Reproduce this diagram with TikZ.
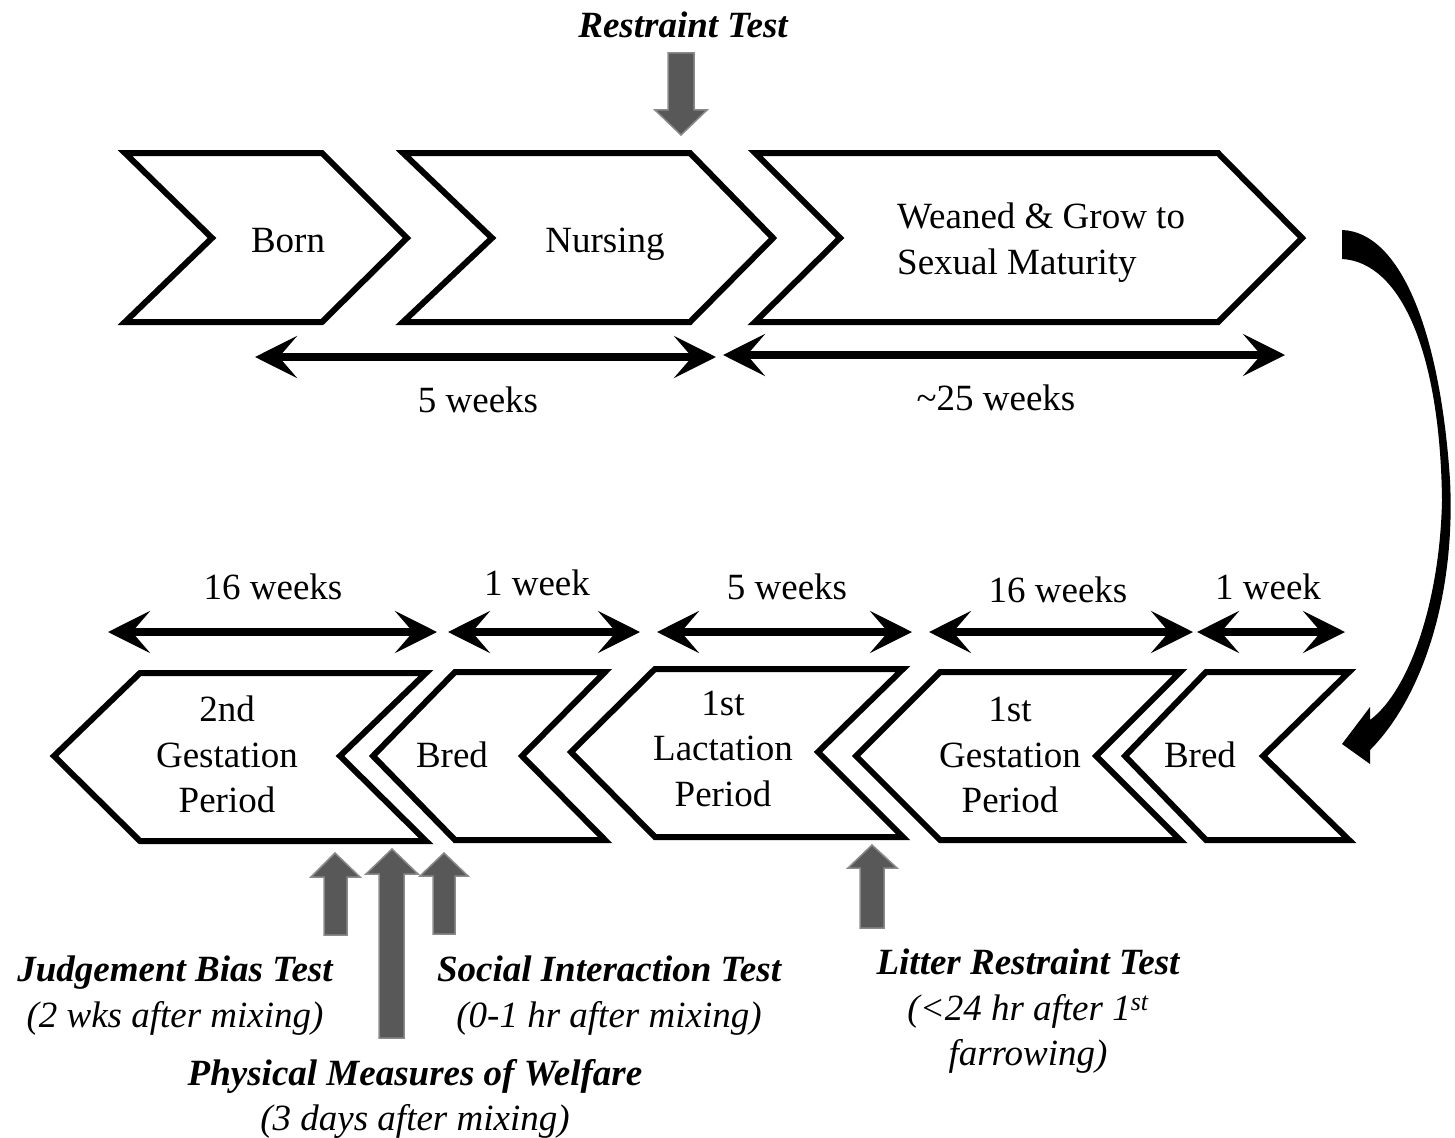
\documentclass[tikz,border=0pt]{standalone}
\usepackage{fontspec}
\setmainfont{Liberation Serif}
\usetikzlibrary{arrows.meta}
\definecolor{agray}{RGB}{88,88,88}
\begin{document}
\begin{tikzpicture}[x=1pt,y=-1pt,
  chev/.style={draw=black,line width=6pt,line join=miter,fill=white},
  lbl/.style={font=\fontsize{37}{46}\selectfont,inner sep=0pt,anchor=base},
  bi/.style={lbl,font=\fontsize{37}{46}\selectfont\bfseries\itshape},
  it/.style={lbl,font=\fontsize{37}{46}\selectfont\itshape},
  dur/.style={line width=8pt,{Stealth[length=42pt,width=42pt,inset=18pt]}-{Stealth[length=42pt,width=42pt,inset=18pt]}},
  garrow/.style={fill=agray,draw=agray!70!white,line width=1.5pt}]
\useasboundingbox (0,0) rectangle (1455,1137);

% ---------- top row chevrons ----------
\draw[chev] (125,153) -- (322,153) -- (407,238) -- (322,322) -- (125,322) -- (212,238) -- cycle;
\draw[chev] (403,153) -- (690,153) -- (773,238) -- (690,322) -- (403,322) -- (492,238) -- cycle;
\draw[chev] (755,153) -- (1218,153) -- (1302,238) -- (1218,322) -- (755,322) -- (840,238) -- cycle;
\node[lbl] (born) at (288,252) {Born};
\node[lbl] (nursing) at (605,252) {Nursing};
\node[lbl,anchor=base west] (weaned1) at (897,228) {Weaned \& Grow to};
\node[lbl,anchor=base west] (weaned2) at (897,274) {Sexual Maturity};

% ---------- top durations ----------
\coordinate (t1l) at (255,357); \coordinate (t1r) at (716,357);
\coordinate (t2l) at (723,355); \coordinate (t2r) at (1285,355);
\draw[dur] (t1l) -- (t1r);
\draw[dur] (t2l) -- (t2r);
\node[lbl] (d5a) at (478,412) {5 weeks};
\node[lbl] (d25) at (996,410) {\textasciitilde25 weeks};

% ---------- restraint test ----------
\node[bi] (restraint) at (683,38) {Restraint Test};
\draw[garrow] (668,53) -- (694,53) -- (694,110) -- (707,110) -- (681,135) -- (655,110) -- (668,110) -- cycle;

% ---------- curved arrow ----------
\fill[black] (1342,230) .. controls (1400,232) and (1440,330) .. (1450,480)
  .. controls (1456,600) and (1420,700) .. (1370,750)
  -- (1370,764) -- (1342,744) -- (1370,707) -- (1370,720)
  .. controls (1410,690) and (1440,600) .. (1442,500)
  .. controls (1440,350) and (1400,262) .. (1342,259) -- cycle;

% ---------- bottom durations ----------
\coordinate (b1l) at (108,632); \coordinate (b1r) at (437,632);
\coordinate (b2l) at (448,632); \coordinate (b2r) at (640,632);
\coordinate (b3l) at (657,632); \coordinate (b3r) at (912,632);
\coordinate (b4l) at (929,632); \coordinate (b4r) at (1193,632);
\coordinate (b5l) at (1197,632); \coordinate (b5r) at (1345,632);
\draw[dur] (b1l) -- (b1r);
\draw[dur] (b2l) -- (b2r);
\draw[dur] (b3l) -- (b3r);
\draw[dur] (b4l) -- (b4r);
\draw[dur] (b5l) -- (b5r);
\node[lbl] (d16a) at (273,599) {16 weeks};
\node[lbl] (d1a) at (537,595) {1 week};
\node[lbl] (d5b) at (787,599) {5 weeks};
\node[lbl] (d16b) at (1058,602) {16 weeks};
\node[lbl] (d1b) at (1268,599) {1 week};

% ---------- bottom row chevrons ----------
\draw[chev] (54,756) -- (140,673) -- (426,673) -- (340,756) -- (426,841) -- (140,841) -- cycle;
\draw[chev] (373,756) -- (455,672) -- (605,672) -- (522,756) -- (605,840) -- (455,840) -- cycle;
\draw[chev] (571,752) -- (655,669) -- (903,669) -- (818,752) -- (903,837) -- (655,837) -- cycle;
\draw[chev] (856,756) -- (940,672) -- (1180,672) -- (1096,756) -- (1180,840) -- (940,840) -- cycle;
\draw[chev] (1125,756) -- (1206,672) -- (1349,672) -- (1263,756) -- (1349,840) -- (1206,840) -- cycle;

\node[lbl] (g2a) at (227,721) {2nd};
\node[lbl] (g2b) at (227,767) {Gestation};
\node[lbl] (g2c) at (227,812) {Period};
\node[lbl] (bred1) at (452,767) {Bred};
\node[lbl] (l1a) at (723,715) {1st};
\node[lbl] (l1b) at (723,760) {Lactation};
\node[lbl] (l1c) at (723,806) {Period};
\node[lbl] (g1a) at (1010,721) {1st};
\node[lbl] (g1b) at (1010,767) {Gestation};
\node[lbl] (g1c) at (1010,812) {Period};
\node[lbl] (bred2) at (1200,767) {Bred};

% ---------- gray up arrows ----------
\draw[garrow] (324,935) -- (347,935) -- (347,877) -- (360,877) -- (335,853) -- (311,877) -- (324,877) -- cycle;
\draw[garrow] (379,1038) -- (404,1038) -- (404,874) -- (418,874) -- (392,849) -- (366,874) -- (379,874) -- cycle;
\draw[garrow] (433,934) -- (455,934) -- (455,876) -- (468,876) -- (444,853) -- (420,876) -- (433,876) -- cycle;
\draw[garrow] (860,928) -- (884,928) -- (884,868) -- (897,868) -- (872,845) -- (848,868) -- (860,868) -- cycle;

% ---------- bottom labels ----------
\node[bi] (jb1) at (175,981) {Judgement Bias Test};
\node[it] (jb2) at (175,1027) {(2 wks after mixing)};
\node[bi] (si1) at (609,981) {Social Interaction Test};
\node[it] (si2) at (609,1027) {(0-1 hr after mixing)};
\node[bi] (pm1) at (415,1085) {Physical Measures of Welfare};
\node[it] (pm2) at (415,1130) {(3 days after mixing)};
\node[bi] (lr1) at (1028,974) {Litter Restraint Test};
\node[it] (lr2) at (1028,1020) {(<24 hr after 1\textsuperscript{st}};
\node[it] (lr3) at (1028,1065) {farrowing)};
\end{tikzpicture}
\end{document}
